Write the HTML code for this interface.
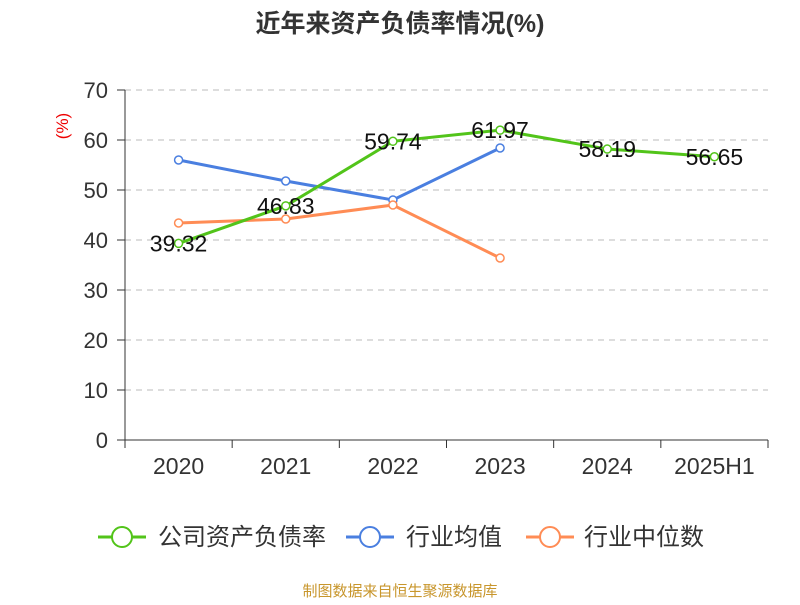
<!DOCTYPE html>
<html><head><meta charset="utf-8"><style>
body{margin:0;background:#fff;font-family:"Liberation Sans","Noto Sans CJK SC",sans-serif}
</style></head><body>
<svg id="c" width="800" height="600" xmlns="http://www.w3.org/2000/svg" font-family="Liberation Sans, Noto Sans CJK SC, sans-serif">
<text x="400" y="32" text-anchor="middle" font-size="25" font-weight="bold" fill="#333">近年来资产负债率情况(%)</text>
<text transform="translate(68,126) rotate(-90)" text-anchor="middle" font-size="17" fill="#e00">(%)</text>
<g id="grid"></g><g id="axes"></g><g id="series"></g>
<g>
<g><line x1="98" y1="537" x2="146" y2="537" stroke="#52c41a" stroke-width="3"/><circle cx="122" cy="537" r="10" fill="#fff" stroke="#52c41a" stroke-width="2"/><text x="158" y="545" font-size="24" fill="#333">公司资产负债率</text></g>
<g><line x1="346" y1="537" x2="394" y2="537" stroke="#4a7fe0" stroke-width="3"/><circle cx="370" cy="537" r="10" fill="#fff" stroke="#4a7fe0" stroke-width="2"/><text x="406" y="545" font-size="24" fill="#333">行业均值</text></g>
<g><line x1="526" y1="537" x2="574" y2="537" stroke="#ff8c55" stroke-width="3"/><circle cx="550" cy="537" r="10" fill="#fff" stroke="#ff8c55" stroke-width="2"/><text x="584" y="545" font-size="24" fill="#333">行业中位数</text></g>
</g>
<text x="400" y="596" text-anchor="middle" font-size="15" fill="#c8962c">制图数据来自恒生聚源数据库</text>
</svg>
<script>
const categories=["2020","2021","2022","2023","2024","2025H1"];
const companyValues=[39.32,46.83,59.74,61.97,58.19,56.65];
const avgValues=[56,51.8,48,58.4];
const medianValues=[43.4,44.2,47,36.4];
const yTicks=[0,10,20,30,40,50,60,70];
const NS="http://www.w3.org/2000/svg";
const x0=125,x1=768,y0=440,yTop=90,bw=(x1-x0)/categories.length;
const X=i=>x0+bw*(i+0.5), Y=v=>y0-(v/70)*(y0-yTop);
function mk(t,a,p){const e=document.createElementNS(NS,t);for(const k in a)e.setAttribute(k,a[k]);p.appendChild(e);return e;}
const grid=document.getElementById('grid'),axes=document.getElementById('axes'),ser=document.getElementById('series');
yTicks.forEach(v=>{
 if(v>0){const g=mk('line',{x1:x0,x2:x1,y1:Y(v),y2:Y(v),stroke:'#bbb','stroke-dasharray':'6,5'},grid);
 }
 mk('line',{x1:117,x2:x0,y1:Y(v),y2:Y(v),stroke:'#333'},axes);
 const t=mk('text',{x:108,y:Y(v)+8,'text-anchor':'end','font-size':22,fill:'#333'},axes);t.textContent=v;
 
});
let a=mk('line',{x1:x0,x2:x0,y1:yTop,y2:y0,stroke:'#333'},axes);
a=mk('line',{x1:x0,x2:x1,y1:y0,y2:y0,stroke:'#333'},axes);
for(let i=0;i<=categories.length;i++)mk('line',{x1:x0+bw*i,x2:x0+bw*i,y1:y0,y2:y0+8,stroke:'#333'},axes);
categories.forEach((c,i)=>{const t=mk('text',{x:X(i),y:474,'text-anchor':'middle','font-size':23,fill:'#333'},axes);t.textContent=c;
 });
function line(vals,col,name,labels){
 const g=mk('g',{},ser);
 mk('polyline',{points:vals.map((v,i)=>X(i)+','+Y(v)).join(' '),fill:'none',stroke:col,'stroke-width':3},g);
 vals.forEach((v,i)=>{const c=mk('circle',{cx:X(i),cy:Y(v),r:4,fill:'#fff',stroke:col,'stroke-width':1.5},g);
  
  if(labels){const t=mk('text',{x:X(i),y:Y(v)+8,'text-anchor':'middle','font-size':23,fill:'#111'},g);t.textContent=v.toFixed(2);
   }});
}
line(avgValues,'#4a7fe0','industry-avg-line',false);
line(medianValues,'#ff8c55','industry-median-line',false);
line(companyValues,'#52c41a','company-line',true);
</script>
</body></html>
